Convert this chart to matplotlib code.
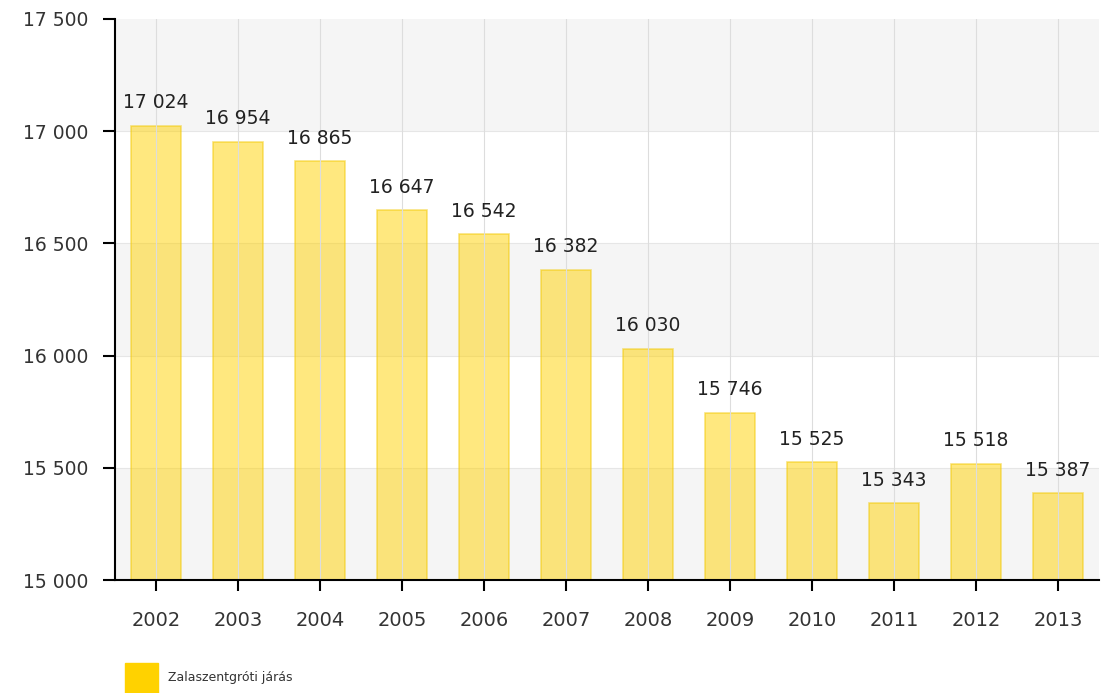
import matplotlib.pyplot as plt
from matplotlib.patches import Rectangle

years = ['2002', '2003', '2004', '2005', '2006', '2007', '2008', '2009', '2010', '2011', '2012', '2013']
values = [17024, 16954, 16865, 16647, 16542, 16382, 16030, 15746, 15525, 15343, 15518, 15387]
series_name = 'Zalaszentgróti járás'


def fmt(v):
    return f'{v:,.0f}'.replace(',', ' ')


fig = plt.figure(figsize=(11.05, 6.93), dpi=100)
ax = fig.add_axes([0.104, 0.163, 0.8906, 0.8096])

# alternating horizontal bands
for i, lo in enumerate(range(15000, 17500, 500)):
    if i % 2 == 0:
        ax.axhspan(lo, lo + 500, color='#f5f5f5', zorder=0, lw=0)
for y in range(15500, 17500, 500):
    ax.axhline(y, color='#e6e6e6', lw=0.8, zorder=0.5)

x = range(len(years))
ax.bar(x, [v - 15000 for v in values], bottom=15000, width=0.62,
       color='#ffd200', alpha=0.5, edgecolor='#f2c800', linewidth=1.2, zorder=1)
for xi in x:
    ax.axvline(xi, color='#dddddd', lw=0.8, zorder=2)

for xi, v in zip(x, values):
    ax.text(xi, v + 60, fmt(v), ha='center', va='bottom', fontsize=13.5, color='#222222')

ax.set_xlim(-0.5, len(years) - 0.5)
ax.set_ylim(15000, 17500)
ax.set_xticks(list(x))
ax.set_xticklabels(years)
ax.set_yticks(range(15000, 17501, 500))
ax.set_yticklabels([fmt(v) for v in range(15000, 17501, 500)])
ax.tick_params(axis='y', length=9, width=1.5, pad=10, labelsize=13.5, labelcolor='#333333')
ax.tick_params(axis='x', length=8, width=1.5, pad=14, labelsize=14, labelcolor='#333333')
ax.spines['top'].set_visible(False)
ax.spines['right'].set_visible(False)
ax.spines['left'].set_linewidth(1.5)
ax.spines['bottom'].set_linewidth(1.5)

# legend
fig.patches.append(Rectangle((125 / 1105, 0.0), 33 / 1105, 30 / 693,
                             transform=fig.transFigure, color='#ffd200'))
fig.text(168 / 1105, 15 / 693, series_name, fontsize=9, color='#333333', va='center')

plt.savefig('out.png', dpi=100)
